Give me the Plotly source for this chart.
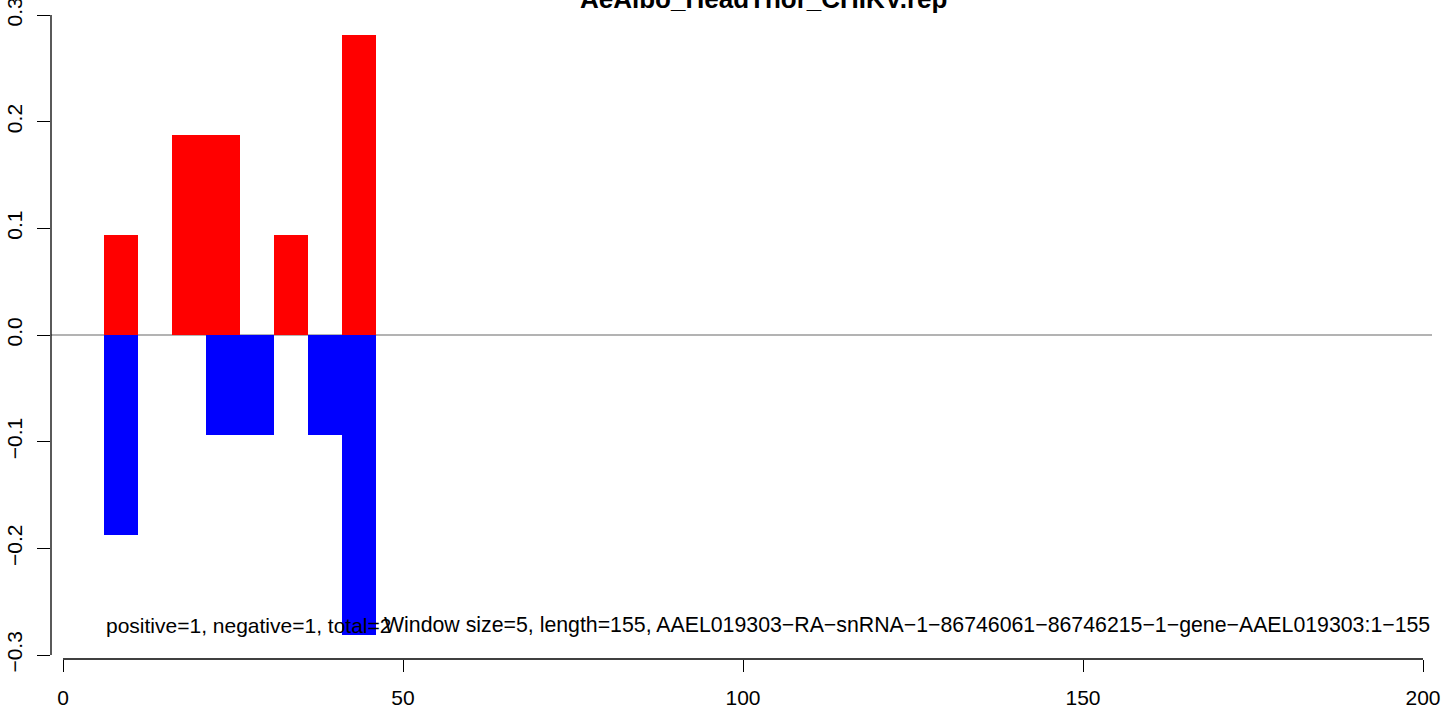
import plotly.graph_objects as go

# ---- data ----
window_starts = [6, 11, 16, 21, 26, 31, 36, 41]
window_size = 5
positive = [0.09375, 0.0, 0.1875, 0.1875, 0.0, 0.09375, 0.0, 0.28125]
negative = [-0.1875, 0.0, 0.0, -0.09375, -0.09375, 0.0, -0.09375, -0.28125]
x_ticks = [0, 50, 100, 150, 200]
y_ticks = [-0.3, -0.2, -0.1, 0.0, 0.1, 0.2, 0.3]
y_tick_labels = ["\u22120.3", "\u22120.2", "\u22120.1", "0.0", "0.1", "0.2", "0.3"]
title_text = "AeAlbo_HeadThor_CHIKV.rep"
left_note = "positive=1, negative=1, total=2"
right_note = ("Window size=5, length=155, AAEL019303\u2212RA\u2212snRNA\u22121\u221286746061"
              "\u221286746215\u22121\u2212gene\u2212AAEL019303:1\u2212155")

FONT = "Liberation Sans, Arial, Helvetica, sans-serif"
centers = [s + window_size / 2 for s in window_starts]

fig = go.Figure()
fig.add_trace(go.Bar(x=centers, y=positive, width=[window_size] * len(centers),
                     marker=dict(color="#FF0000", line=dict(width=0)), showlegend=False))
fig.add_trace(go.Bar(x=centers, y=negative, width=[window_size] * len(centers),
                     marker=dict(color="#0000FF", line=dict(width=0)), showlegend=False))

# zero line across the plot region (below bars)
fig.add_shape(type="line", xref="paper", yref="y", x0=0, x1=1, y0=0, y1=0,
              line=dict(color="#9a9a9a", width=1.3), layer="below")
# axis lines spanning only the tick range (R style)
fig.add_shape(type="line", xref="x", yref="paper", x0=min(x_ticks), x1=max(x_ticks),
              y0=0, y1=0, line=dict(color="black", width=1.3))
fig.add_shape(type="line", xref="paper", yref="y", x0=0, x1=0,
              y0=min(y_ticks), y1=max(y_ticks), line=dict(color="black", width=1.3))

fig.add_annotation(text="<b>" + title_text + "</b>", xref="paper", yref="paper",
                   x=0.516, y=1.019, xanchor="center", yanchor="middle", showarrow=False,
                   font=dict(family=FONT, size=26, color="black"))
fig.add_annotation(text=left_note, xref="x", yref="y", x=window_starts[0], y=-0.272,
                   xanchor="left", yanchor="middle", showarrow=False,
                   font=dict(family=FONT, size=21, color="black"))
fig.add_annotation(text=right_note, xref="paper", yref="y", x=1.0, y=-0.272,
                   xanchor="right", yanchor="middle", showarrow=False,
                   font=dict(family=FONT, size=21.3, color="black"))

fig.update_layout(
    width=1444, height=709,
    margin=dict(l=51, r=12, t=11, b=50, pad=0),
    paper_bgcolor="white", plot_bgcolor="white",
    barmode="overlay", bargap=0,
    font=dict(family=FONT, size=21, color="black"),
    xaxis=dict(range=[-1.765, 201.32], tickmode="array", tickvals=x_ticks,
               ticktext=[str(v) for v in x_ticks], automargin=False,
               showgrid=False, zeroline=False, showline=False,
               ticks="outside", ticklen=12, tickwidth=1.3, tickcolor="black",
               ticklabelstandoff=8, ticklabeloverflow="allow",
               tickfont=dict(family=FONT, size=21)),
    yaxis=dict(range=[-0.30375, 0.30375], tickmode="array", tickvals=y_ticks,
               ticktext=y_tick_labels, tickangle=-90, automargin=False,
               showgrid=False, zeroline=False, showline=False,
               ticks="outside", ticklen=13, tickwidth=1.3, tickcolor="black",
               ticklabelstandoff=7, ticklabeloverflow="allow",
               tickfont=dict(family=FONT, size=21)),
)

fig.write_html("out.html", config={"displayModeBar": False},
               post_script="document.body.style.margin='0px';document.body.style.overflow='hidden';")
